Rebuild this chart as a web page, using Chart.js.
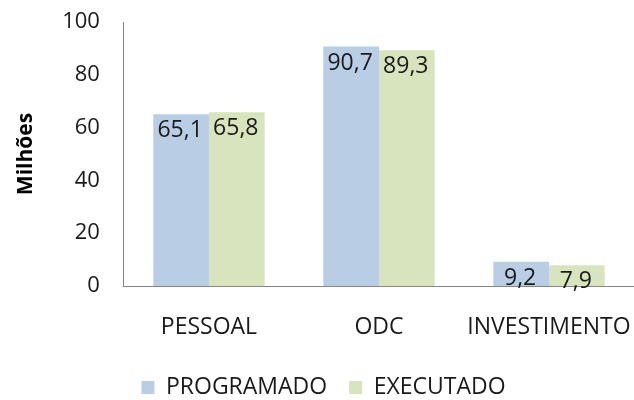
<!DOCTYPE html>
<html>
<head>
<meta charset="utf-8">
<script src="https://cdn.jsdelivr.net/npm/chart.js@4"></script>
<style>
    html, body { margin: 0; padding: 0; background: #fff; }
    #wrap { width: 634px; height: 400px; }
</style>
</head>
<body>
<div id="wrap"><canvas id="chart"></canvas></div>
<script>
    // Chart data
    const categories = ['PESSOAL', 'ODC', 'INVESTIMENTO'];
    const programado = [65.1, 90.7, 9.2];
    const executado = [65.8, 89.3, 7.9];
    const yTicks = [0, 20, 40, 60, 80, 100];

    const FONT = "'Open Sans', sans-serif";
    const TEXT = '#1a1a1a';

    // Draw the value labels inside the top of each bar, comma decimals
    const barLabels = {
        id: 'barLabels',
        afterDatasetsDraw(chart) {
            const ctx = chart.ctx;
            ctx.save();
            ctx.font = '23px ' + FONT;
            ctx.fillStyle = TEXT;
            ctx.textAlign = 'center';
            ctx.textBaseline = 'top';
            chart.data.datasets.forEach((ds, i) => {
                chart.getDatasetMeta(i).data.forEach((bar, j) => {
                    const txt = ds.data[j].toFixed(1).replace('.', ',');
                    ctx.fillText(txt, bar.x - 1, bar.y + 5);
                });
            });
            ctx.restore();
        }
    };

    new Chart(document.getElementById('chart'), {
        type: 'bar',
        data: {
            labels: categories,
            datasets: [
                {
                    label: 'PROGRAMADO',
                    data: programado,
                    backgroundColor: '#b9cde5',
                    categoryPercentage: 0.655,
                    barPercentage: 1
                },
                {
                    label: 'EXECUTADO',
                    data: executado,
                    backgroundColor: '#d7e4bd',
                    categoryPercentage: 0.655,
                    barPercentage: 1
                }
            ]
        },
        options: {
            responsive: true,
            maintainAspectRatio: false,
            animation: false,
            layout: { padding: { top: 0, right: 0, left: 13, bottom: -9 } },
            plugins: {
                legend: {
                    position: 'bottom',
                    labels: {
                        font: { family: FONT, size: 23 },
                        color: TEXT,
                        boxWidth: 13,
                        boxHeight: 13,
                        padding: 22
                    }
                },
                tooltip: { enabled: false }
            },
            scales: {
                x: {
                    grid: { display: false, drawTicks: false },
                    border: { color: '#868686' },
                    ticks: {
                        font: { family: FONT, size: 23 },
                        color: TEXT,
                        padding: 28
                    },
                    afterFit: function(axis) {
                        // let the plot run to the right edge like the original
                        axis.paddingRight = 0;
                        axis.height = 68;
                    }
                },
                y: {
                    min: 0,
                    max: 100,
                    afterBuildTicks: function(axis) {
                        axis.ticks = yTicks.map(v => ({ value: v }));
                    },
                    afterFit: function(axis) {
                        axis.paddingTop = 22;
                        axis.paddingBottom = 0;
                    },
                    grid: { display: false, drawTicks: false },
                    border: { color: '#868686' },
                    ticks: {
                        font: { family: FONT, size: 22 },
                        color: TEXT,
                        padding: 24
                    },
                    title: {
                        display: true,
                        text: 'Milhões',
                        font: { family: FONT, size: 21, weight: 'bold' },
                        color: '#000',
                        padding: { top: 0, bottom: 0 }
                    }
                }
            }
        },
        plugins: [barLabels]
    });
</script>
</body>
</html>
